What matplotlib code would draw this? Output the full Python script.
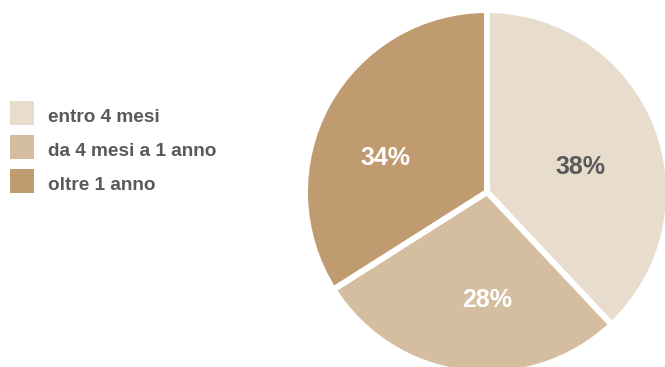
import matplotlib
matplotlib.use("Agg")
from matplotlib import pyplot as plt
from matplotlib.patches import Rectangle

categories = ["entro 4 mesi", "da 4 mesi a 1 anno", "oltre 1 anno"]
shares = [38, 28, 34]
colors = ["#E8DCCD", "#D5BDA0", "#C09B70"]
pct_colors = ["#58595B", "white", "white"]

W, H = 665, 367
fig = plt.figure(figsize=(W / 100, H / 100), dpi=100)
ax = fig.add_axes([0, 0, 1, 1])

cx, cy = 487, H - 192
# pie starts at 12 o'clock and runs clockwise
wedges, texts, autotexts = ax.pie(
    shares, colors=colors, startangle=90, counterclock=False,
    center=(cx, cy), radius=182,
    autopct="%d%%", pctdistance=0.6,
    wedgeprops=dict(edgecolor="white", linewidth=4.3),
    textprops=dict(fontsize=18, fontweight="bold", family="Liberation Sans"),
)
# percentage labels sit a little off the wedge centres
label_pos = [(93, 25), (0, -108), (-102, 34)]
for t, c, (dx, dy) in zip(autotexts, pct_colors, label_pos):
    t.set_color(c)
    t.set_position((cx + dx, cy + dy))

ax.set_xlim(0, W)
ax.set_ylim(0, H)
ax.set_aspect("equal")
ax.axis("off")

# legend on the left
for i, (name, col) in enumerate(zip(categories, colors)):
    y = H - 113 - i * 34
    ax.add_patch(Rectangle((10, y - 12), 24, 24, facecolor=col, edgecolor="none"))
    ax.text(48, y - 5, name, fontsize=13.7, fontweight="bold", color="#58595B",
            family="Liberation Sans", va="center", ha="left")

fig.savefig("out.png", dpi=100)
